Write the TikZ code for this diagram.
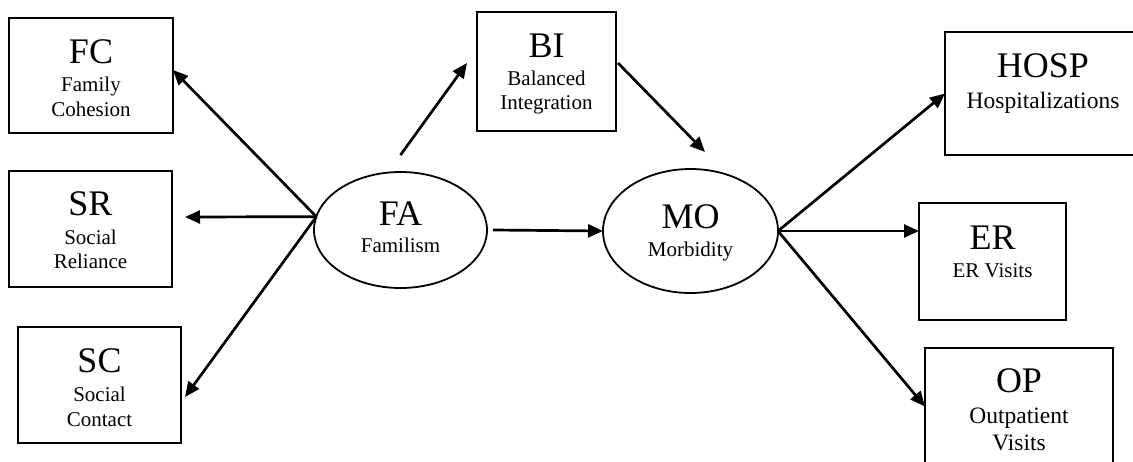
\documentclass[tikz,border=0pt]{standalone}
\usepackage{fontspec}
\setmainfont{Liberation Serif}
\usetikzlibrary{shapes.geometric,arrows.meta}
\begin{document}
\begin{tikzpicture}[x=1pt,y=-1pt,
  box/.style={draw,line width=2pt,rectangle,inner sep=0pt,outer sep=0pt},
  oval/.style={draw,line width=1.8pt,ellipse,inner sep=0pt,outer sep=0pt},
  big/.style={anchor=base,inner sep=0pt,font=\fontsize{36}{36}\selectfont},
  small/.style={anchor=base,inner sep=0pt,font=\fontsize{21}{21}\selectfont},
  smallb/.style={anchor=base,inner sep=0pt,font=\fontsize{23.5}{23.5}\selectfont},
  arr/.style={line width=2.7pt,-{Triangle[length=15pt,width=13pt]}}]
\useasboundingbox (0,0) rectangle (1133,461);
\clip (0,0) rectangle (1133,461);
\fill[white] (0,0) rectangle (1133,461);
% boxes
\node[box,minimum width=164pt,minimum height=115pt] (FC) at (91,75.5) {};
\node[box,minimum width=163pt,minimum height=116pt] (SR) at (90.5,229) {};
\node[box,minimum width=163pt,minimum height=116pt] (SC) at (99.5,385) {};
\node[box,minimum width=139pt,minimum height=119pt] (BI) at (546.5,71.5) {};
\node[box,minimum width=196pt,minimum height=123pt] (HOSP) at (1043,93.5) {};
\node[box,minimum width=147pt,minimum height=117pt] (ER) at (992.5,261.5) {};
\node[box,minimum width=188pt,minimum height=117pt] (OP) at (1019,406.5) {};
\node[oval,minimum width=173pt,minimum height=116pt] (FA) at (400.5,230) {};
\node[oval,minimum width=175pt,minimum height=124pt] (MO) at (690.5,231) {};
% texts
\node[big] (FCa) at (91,63) {FC};
\node[small] (FCb) at (91,91) {Family};
\node[small] (FCc) at (91,116) {Cohesion};
\node[big] (SRa) at (90.5,215) {SR};
\node[small] (SRb) at (90.5,244) {Social};
\node[small] (SRc) at (90.5,268) {Reliance};
\node[big] (SCa) at (99.5,372) {SC};
\node[small] (SCb) at (99.5,401) {Social};
\node[small] (SCc) at (99.5,426) {Contact};
\node[big] (BIa) at (546.5,57) {BI};
\node[small] (BIb) at (546.5,85) {Balanced};
\node[small] (BIc) at (546.5,109) {Integration};
\node[big] (HOSPa) at (1043,77) {HOSP};
\node[smallb] (HOSPb) at (1043,108) {Hospitalizations};
\node[big] (ERa) at (992.5,249) {ER};
\node[small] (ERb) at (992.5,277) {ER Visits};
\node[big] (OPa) at (1019,392) {OP};
\node[smallb] (OPb) at (1019,423) {Outpatient};
\node[smallb] (OPc) at (1019,450) {Visits};
\node[big] (FAa) at (400.5,225) {FA};
\node[small] (FAb) at (400.5,252) {Familism};
\node[big] (MOa) at (690.5,228) {MO};
\node[small] (MOb) at (690.5,256) {Morbidity};
% arrows
\draw[arr] (FA.171) -- ([yshift=5.5pt]FC.east);
\draw[arr] (FA.171) -- ([xshift=13pt,yshift=12pt]SR.east);
\draw[arr] (FA.171) -- ([xshift=4pt,yshift=-12pt]SC.east);
\draw[arr] ([yshift=17pt]FA.north) -- ([xshift=-10pt,yshift=8.5pt]BI.west);
\draw[arr] ([xshift=2pt,yshift=8.5pt]BI.east) -- ([xshift=14.5pt,yshift=17pt]MO.north);
\draw[arr] ([xshift=6pt]FA.east) -- (MO.west);
\draw[arr] (MO.east) -- (HOSP.west);
\draw[arr] (MO.east) -- (MO.east -| ER.west);
\draw[arr] (MO.east) -- (OP.west);
\end{tikzpicture}
\end{document}
